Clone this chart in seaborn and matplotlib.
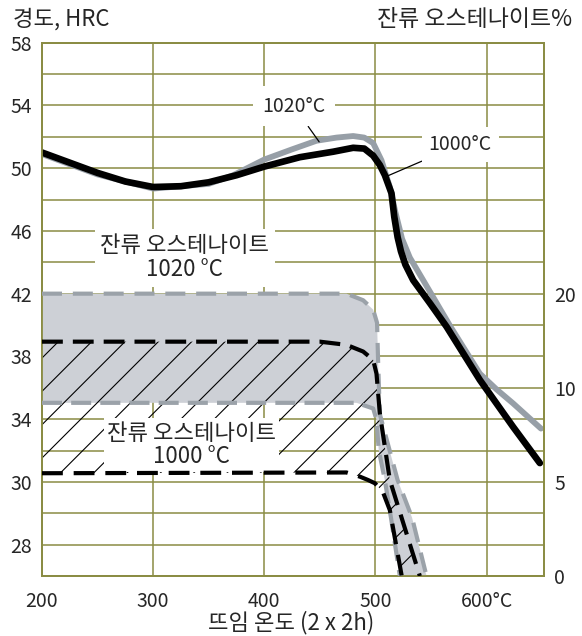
import numpy as np
import pandas as pd
import matplotlib
matplotlib.use("Agg")
import matplotlib.pyplot as plt
import seaborn as sns

# ---------------- data ----------------
# hardness curves (temperature °C, HRC)
temp_1000 = [200, 225, 250, 275, 300, 325, 350, 375, 400, 432, 462, 480, 490, 498, 504, 508.5, 514.5,
             517, 520, 523, 527, 534, 549, 564, 579, 594, 609, 624, 648]
hrc_1000 = [51.0, 50.35, 49.7, 49.15, 48.8, 48.85, 49.1, 49.55, 50.1, 50.7, 51.05, 51.3, 51.25, 50.8,
            50.2, 49.56, 48.4, 46.9, 45.6, 44.7, 43.85, 42.86, 41.4, 39.9, 38.2, 36.5, 35.0, 33.5, 31.2]
temp_1020 = [200, 250, 300, 350, 372, 400, 425, 447, 465, 480, 490, 498, 505.5, 513, 518, 524, 531,
             543, 568, 594, 609, 624, 649]
hrc_1020 = [50.9, 49.6, 48.7, 49.0, 49.55, 50.55, 51.2, 51.75, 51.95, 52.05, 51.95, 51.6, 50.5, 48.8,
            47.2, 45.5, 44.3, 42.86, 39.85, 36.9, 35.9, 35.0, 33.4]

# retained austenite bands (temperature °C, %)
ra1020_top_t = [200, 474, 489, 498, 501.5, 502.5, 504, 520, 533, 546]
ra1020_top_p = [20, 20, 19.3, 18.3, 16.9, 12.6, 8.6, 5.1, 3.1, 0]
ra1020_bot_t = [200, 483, 498, 501, 503, 508.5, 514, 522]
ra1020_bot_p = [9.2, 9.2, 8.9, 8.3, 6.7, 5.1, 3.1, 0]
ra1000_top_t = [200, 450, 474, 489, 498, 501, 504, 508.5, 513, 527, 540]
ra1000_top_p = [14.9, 14.9, 14.56, 13.85, 12.97, 11.5, 8.65, 6.87, 5.1, 2.45, 0]
ra1000_bot_t = [200, 474, 486, 493.4, 499.5, 506.7, 513, 523.7]
ra1000_bot_p = [5.46, 5.5, 5.28, 5.1, 4.93, 4.47, 3.5, 0]

# ticks / labels
x_ticks = [200, 300, 400, 500, 600]
x_ticklabels = ["200", "300", "400", "500", "600°C"]
hrc_ticks = [58, 54, 50, 46, 42, 38, 34, 30, 26]
hrc_ticklabels = ["58", "54", "50", "46", "42", "38", "34", "30", "28"]
ra_ticks = [0, 5, 10, 20]
ra_ticklabels = ["0", "5", "10", "20"]

# ---------------- style ----------------
sns.set_theme(style="white")
plt.rcParams["font.family"] = ["Noto Sans CJK KR", "DejaVu Sans"]
plt.rcParams["hatch.linewidth"] = 0.8

GRID = "#8a8c44"
GRAY_LINE = "#979fa7"
GRAY_FILL = "#cdd0d6"
GRAY_DASH = "#9ba2a9"

W, H = 582, 636
fig = plt.figure(figsize=(W / 100, H / 100), dpi=100)
ax = fig.add_axes([42 / W, 1 - 576 / H, (544.3 - 42) / W, (576 - 42.7) / H])

ax.set_xlim(200, 652)
ax.set_ylim(24, 58)
ax.set_xticks(x_ticks)
ax.set_xticklabels(x_ticklabels, fontsize=14)
ax.set_yticks(hrc_ticks)
ax.set_yticklabels(hrc_ticklabels, fontsize=14)
ax.set_yticks(np.arange(24, 59, 2), minor=True)
ax.tick_params(axis="both", which="both", length=0)
ax.tick_params(axis="x", pad=11)
ax.tick_params(axis="y", pad=7)
ax.set_axisbelow(True)
ax.grid(axis="x", which="major", color=GRID, lw=1.1)
ax.grid(axis="y", which="both", color=GRID, lw=1.1)
for s in ax.spines.values():
    s.set_color(GRID)
    s.set_linewidth(1.3)

# hardness curves
sns.lineplot(x=temp_1020, y=hrc_1020, ax=ax, color=GRAY_LINE, lw=4.2, sort=False, zorder=4)
sns.lineplot(x=temp_1000, y=hrc_1000, ax=ax, color="black", lw=4.8, sort=False, zorder=5)
ax.set_xlabel("")
ax.set_ylabel("")

# annotations for hardness curves
ax.annotate("1020°C", xy=(449.4, 51.68), xytext=(426.6, 53.95), fontsize=14, ha="center", va="center",
            bbox=dict(boxstyle="square,pad=0.5", fc="white", ec="none"),
            arrowprops=dict(arrowstyle="-", color="black", lw=0.9, shrinkA=0, shrinkB=0), zorder=6)
ax.annotate("1000°C", xy=(511.4, 49.52), xytext=(576.3, 51.5), fontsize=14, ha="center", va="center",
            bbox=dict(boxstyle="square,pad=0.35", fc="white", ec="none"),
            arrowprops=dict(arrowstyle="-", color="black", lw=0.9, shrinkA=0, shrinkB=0), zorder=6)

# ---------------- retained austenite axis ----------------
PCT_K = [-50, 0, 5, 10, 20, 50]
POS_K = [-30, 0, 3, 6, 9, 18]


def fwd(p):
    return np.interp(p, PCT_K, POS_K)


def inv(q):
    return np.interp(q, POS_K, PCT_K)


tw = ax.twinx()
tw.set_yscale("function", functions=(fwd, inv))
tw.set_ylim(0, float(inv(17)))
tw.set_yticks(ra_ticks)
tw.set_yticklabels(ra_ticklabels, fontsize=14)
tw.yaxis.set_minor_locator(matplotlib.ticker.NullLocator())
tw.tick_params(axis="y", which="both", length=0, pad=7)
tw.grid(False)
for s in tw.spines.values():
    s.set_color(GRID)
    s.set_linewidth(1.3)

# 1020 band (gray)
tw.fill(np.concatenate([ra1020_top_t, ra1020_bot_t[::-1]]),
        np.concatenate([ra1020_top_p, ra1020_bot_p[::-1]]),
        color=GRAY_FILL, lw=0, zorder=1)
# 1000 band (hatched)
tw.fill(np.concatenate([ra1000_top_t, ra1000_bot_t[::-1]]),
        np.concatenate([ra1000_top_p, ra1000_bot_p[::-1]]),
        facecolor="none", edgecolor="black", hatch="/", lw=0, zorder=2)

tw.plot(ra1020_top_t, ra1020_top_p, color=GRAY_DASH, lw=3, ls=(0, (4.8, 2.6)), zorder=3)
tw.plot(ra1020_bot_t, ra1020_bot_p, color=GRAY_DASH, lw=3, ls=(0, (4.8, 2.2)), zorder=3)
tw.plot(ra1000_top_t, ra1000_top_p, color="black", lw=3, ls=(0, (5.0, 2.4)), zorder=3.5)
tw.plot(ra1000_bot_t, ra1000_bot_p, color="black", lw=3, ls=(0, (5.0, 2.6)), zorder=7)

# band labels (drawn on twin so their boxes hide the hatch)
tw.text(328.6, 44.3, "잔류 오스테나이트\n1020 °C", transform=ax.transData, fontsize=16,
        ha="center", va="center", linespacing=1.05,
        bbox=dict(boxstyle="square,pad=0.25", fc="white", ec="none"), zorder=6)
tw.text(334.5, 32.35, "잔류 오스테나이트\n1000 °C", transform=ax.transData, fontsize=16,
        ha="center", va="center", linespacing=1.05,
        bbox=dict(boxstyle="square,pad=0.15", fc="white", ec="none"), zorder=6)

# ---------------- titles ----------------
fig.text(13 / W, 1 - 19 / H, "경도, HRC", fontsize=16, ha="left", va="center")
fig.text(572 / W, 1 - 19 / H, "잔류 오스테나이트%", fontsize=16.5, ha="right", va="center")
fig.text(291 / W, 1 - 623 / H, "뜨임 온도 (2 x 2h)", fontsize=16, ha="center", va="center")

fig.savefig("out.png", dpi=100)
